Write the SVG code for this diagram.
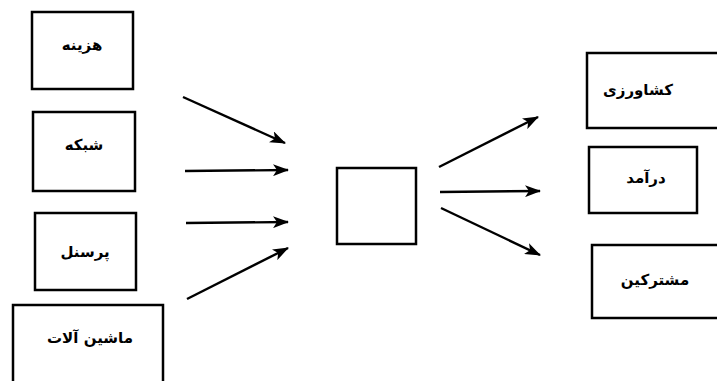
<svg xmlns="http://www.w3.org/2000/svg" width="717" height="381" viewBox="0 0 717 381">
<defs>
<style>
.box{fill:#fff;stroke:#000;stroke-width:2.5}
.lbl{font-family:"DejaVu Sans","Noto Sans",sans-serif;font-weight:bold;font-size:15px;fill:#000;text-anchor:middle;direction:rtl}
.edge{stroke:#000;stroke-width:2.4;fill:none;marker-end:url(#ah)}
</style>
<marker id="ah" viewBox="0 0 16 12" refX="15" refY="6" markerWidth="16" markerHeight="12" markerUnits="userSpaceOnUse" orient="auto">
<path d="M0,0 L16,6 L0,12 L4,6 Z" fill="#000"/>
</marker>
</defs>
<rect width="717" height="381" fill="#fff"/>
<g id="n-hazine"><rect class="box" x="32" y="12" width="101" height="77"/><text class="lbl" x="82" y="50">هزینه</text></g>
<g id="n-shabake"><rect class="box" x="33" y="112" width="102" height="79"/><text class="lbl" x="84" y="150">شبکه</text></g>
<g id="n-personel"><rect class="box" x="35" y="213" width="101" height="77"/><text class="lbl" x="85" y="257">پرسنل</text></g>
<g id="n-mashin"><rect class="box" x="13" y="305" width="150" height="78"/><text class="lbl" x="90" y="343">ماشین آلات</text></g>
<g id="n-center"><rect class="box" x="337" y="168" width="79" height="76"/></g>
<g id="n-keshavarzi"><rect class="box" x="587" y="53" width="135" height="75"/><text class="lbl" x="638" y="95">کشاورزی</text></g>
<g id="n-daramad"><rect class="box" x="589" y="147" width="108" height="66"/><text class="lbl" x="646" y="183">درآمد</text></g>
<g id="n-moshtarakin"><rect class="box" x="592" y="245" width="130" height="73"/><text class="lbl" x="655" y="285">مشترکین</text></g>
<g id="connectors">
<line class="edge" x1="183" y1="97" x2="285" y2="143"/>
<line class="edge" x1="185" y1="171" x2="288" y2="170"/>
<line class="edge" x1="186" y1="223" x2="288" y2="222"/>
<line class="edge" x1="187" y1="299" x2="288" y2="248"/>
<line class="edge" x1="439" y1="167" x2="538" y2="117"/>
<line class="edge" x1="440" y1="192" x2="540" y2="191"/>
<line class="edge" x1="441" y1="208" x2="540" y2="255"/>
</g>
</svg>
